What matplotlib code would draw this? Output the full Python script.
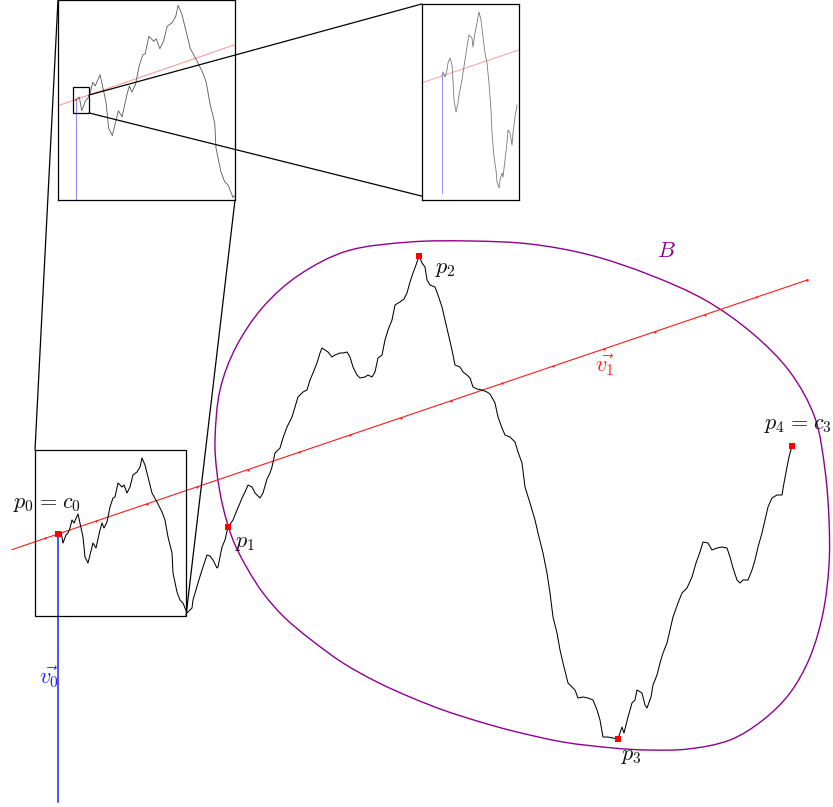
import numpy as np
import matplotlib
matplotlib.use("Agg")
import matplotlib.pyplot as plt
from matplotlib.path import Path
from matplotlib.patches import PathPatch, Rectangle, ConnectionPatch

plt.rcParams['mathtext.fontset'] = 'cm'

# ---------------- data (origin at p0) ----------------
path_x = [0, 3, 5, 8, 10, 12, 14, 16, 20, 22, 25, 27, 30, 32, 35, 38, 42, 44, 46, 49,
          52, 55, 57, 60, 64, 66, 69, 72, 75, 79, 82, 84, 87, 90, 94, 99, 104, 107, 110, 114,
          115, 119, 122, 125, 129, 134, 135, 140, 144, 149, 152, 155, 159, 160, 164, 167, 170, 175, 179, 182,
          184, 187, 190, 194, 197, 202, 205, 209, 212, 214, 217, 222, 225, 229, 234, 237, 240, 245, 249, 252,
          255, 259, 262, 264, 267, 270, 274, 277, 282, 285, 289, 292, 295, 299, 302, 307, 310, 314, 317, 320,
          324, 327, 330, 334, 337, 342, 346, 349, 352, 355, 358, 361, 364, 367, 369, 372, 377, 380, 384, 387,
          390, 394, 397, 402, 405, 409, 412, 415, 419, 424, 429, 432, 437, 440, 444, 447, 452, 457, 460, 464,
          467, 472, 477, 480, 485, 489, 492, 495, 499, 502, 505, 510, 517, 520, 525, 530, 535, 539, 542, 545,
          550, 555, 560, 564, 566, 570, 574, 577, 579, 584, 587, 589, 593, 595, 599, 602, 605, 609, 612, 615,
          620, 624, 629, 634, 638, 642, 645, 650, 654, 659, 664, 669, 672, 675, 679, 682, 685, 690, 694, 697,
          700, 704, 707, 710, 714, 719, 724, 726, 729, 731, 734]
path_y = [0, 2, -9, -1, 1, 6, 14, 11, 20, 11, -3, -23, -29, -21, -9, -14, 4, 11, 6, 12,
          27, 36, 37, 51, 47, 49, 41, 47, 59, 62, 67, 76, 69, 57, 41, 32, 22, 14, -3, -19,
          -39, -58, -66, -69, -79, -74, -66, -49, -36, -21, -22, -26, -34, -33, -13, -6, 7, 14, 24, 31,
          36, 42, 49, 47, 41, 36, 41, 55, 61, 67, 81, 86, 96, 107, 117, 127, 137, 142, 144, 154,
          161, 171, 181, 186, 184, 182, 177, 179, 181, 181, 182, 177, 167, 159, 156, 157, 159, 157, 162, 176,
          179, 194, 204, 214, 229, 232, 235, 241, 252, 261, 269, 278, 271, 267, 254, 249, 247, 239, 227, 214,
          201, 184, 169, 167, 162, 159, 156, 147, 145, 144, 142, 140, 131, 117, 106, 99, 97, 92, 82, 71,
          47, 31, 14, 1, -19, -39, -59, -83, -99, -116, -129, -149, -156, -164, -163, -164, -166, -176, -186, -203,
          -203, -204, -205, -193, -199, -183, -169, -166, -156, -159, -171, -174, -163, -151, -141, -129, -119, -109, -96, -83,
          -69, -59, -54, -43, -29, -18, -8, -9, -16, -14, -13, -14, -23, -34, -46, -49, -46, -46, -36, -26,
          -13, 1, 14, 27, 36, 39, 39, 51, 67, 77, 88]
key_idx = [0, 56, 111, 162, 210]
key_labels = [r'$p_0\hspace{0.08}=\hspace{0.08}c_0$', r'$p_1$', r'$p_2$', r'$p_3$',
              r'$p_4\hspace{0.08}=\hspace{0.08}c_3$']

# fine-scale path shown in the second zoom
zoom_x = [0, 1, 3, 5, 6, 8, 10, 11, 12, 14, 16, 17, 18, 20, 21, 23, 25, 27, 30, 31,
          33, 35, 36, 37, 39, 41, 43, 45, 47, 49, 50, 52, 54, 55, 57, 58, 60, 61, 63, 65,
          66, 68, 70, 71, 73, 75]
zoom_y = [0, 4, -1, 6, 13, 18, 11, -4, -24, -36, -27, -19, -14, -4, 3, 16, 29, 41, 38, 29,
          43, 53, 59, 64, 56, 39, 23, 13, -7, -34, -57, -81, -94, -106, -112, -104, -97, -101, -84, -67,
          -54, -57, -69, -57, -41, -29]

# direction vectors
v0 = (0.0, -1.0)
v1 = (1.0, 0.339)
v0_len = 268
v1_t = (-46, 750)

# curve B
B_x = [157, 162, 178, 205, 241, 289, 352, 412, 472, 532, 592, 647, 694, 732, 757, 767,
       771, 771, 765, 752, 732, 705, 672, 630, 589, 555, 505, 455, 419, 385, 352, 319,
       285, 252, 226, 205, 189, 175, 165, 159]
B_y = [94, 144, 187, 227, 259, 283, 292, 293, 290, 279, 259, 234, 201, 162, 116, 64,
       14, -31, -79, -123, -159, -186, -206, -215, -216, -214, -208, -197, -187, -176, -163, -148,
       -129, -105, -83, -59, -34, -6, 27, 61]

# ---------------- figure ----------------
W, H = 833, 807
fig = plt.figure(figsize=(W / 100, H / 100), dpi=100)
ax = fig.add_axes([0, 0, 1, 1])
ax.set_xlim(-58, W - 58)
ax.set_ylim(534 - H, 534)
ax.axis('off')

PURPLE = '#900090'


def smooth_closed(xs, ys):
    pts = np.column_stack([xs, ys]).astype(float)
    n = len(pts)
    d = np.linalg.norm(np.roll(pts, -1, axis=0) - pts, axis=1)  # |p_{i+1}-p_i|
    tang = []
    for i in range(n):
        tang.append((pts[(i + 1) % n] - pts[i - 1]) / (d[i - 1] + d[i]))
    verts = [pts[0]]
    codes = [Path.MOVETO]
    for i in range(n):
        j = (i + 1) % n
        verts += [pts[i] + tang[i] * d[i] / 3, pts[j] - tang[j] * d[i] / 3, pts[j]]
        codes += [Path.CURVE4] * 3
    return Path(verts, codes)


ax.add_patch(PathPatch(smooth_closed(B_x, B_y), fill=False, ec=PURPLE, lw=1.0))


def draw_lines(a, col_r, col_b, lw_r, lw_b, blen, dots=True):
    t = np.array(v1_t, float)
    a.plot(t * v1[0], t * v1[1], color=col_r, lw=lw_r, zorder=2)
    if dots:
        td = np.linspace(-13, 749, 16)
        a.plot(td * v1[0], td * v1[1], 'o', color=col_r, ms=1.6, mew=0, zorder=2)
    a.plot([0, v0[0] * blen], [0, v0[1] * blen], color=col_b, lw=lw_b, zorder=2)


draw_lines(ax, '#ff1a1a', '#2222ff', 0.8, 1.1, v0_len)
ax.plot(path_x, path_y, color='black', lw=0.75, zorder=3)
kx = [path_x[i] for i in key_idx]
ky = [path_y[i] for i in key_idx]
ax.plot(kx, ky, 's', color='#ff0000', ms=3.8, mew=0, zorder=4)

fs = 16
label_pos = [(-45.5, 26), (177, -13), (377, 261), (563, -226), (706, 105)]
for (lx, ly), lab in zip(label_pos, key_labels):
    ax.text(lx, ly, lab, fontsize=fs, ha='left', va='baseline', color='#111111')
ax.text(599, 277, r'$B$', fontsize=fs, color=PURPLE, ha='left', va='baseline')
ax.text(537, 162, r'$\vec{v_1}$', fontsize=fs, color='#ff2020', ha='left', va='baseline')
ax.text(-18.7, -150, r'$\vec{v_0}$', fontsize=fs, color='#2222ff', ha='left', va='baseline')

# box around the first zoom region
ax.add_patch(Rectangle((-23, -82), 151, 166, fill=False, ec='black', lw=0.9, zorder=5))

# ---------------- inset 1 ----------------
ax1 = fig.add_axes([58 / W, 1 - 200 / H, 177 / W, 200 / H])
ax1.set_xlim(-14.5, 130.6)
ax1.set_ylim(-81, 80.3)
ax1.set_xticks([]); ax1.set_yticks([])
for s in ax1.spines.values():
    s.set_linewidth(0.9)
draw_lines(ax1, '#ff9090', '#9090ff', 0.7, 0.8, 200, dots=False)
ax1.plot(path_x, path_y, color='#555555', lw=0.6, zorder=3)
ax1.plot([0], [0], 's', color='#ff4040', ms=1.8, mew=0, zorder=4)
ax1.add_patch(Rectangle((-2.2, -10.8), 13.2, 21, fill=False, ec='black', lw=0.9, zorder=5))

# ---------------- inset 2 ----------------
ax2 = fig.add_axes([421.7 / W, 1 - 200 / H, 97.6 / W, 196 / H])
ax2.set_xlim(-20.3, 77.3)
ax2.set_ylim(-124, 72)
ax2.set_xticks([]); ax2.set_yticks([])
for s in ax2.spines.values():
    s.set_linewidth(0.9)
draw_lines(ax2, '#ff9090', '#9090ff', 0.6, 0.7, 117, dots=False)
ax2.plot(zoom_x, zoom_y, color='#777777', lw=0.6, zorder=3)

# ---------------- connectors ----------------
conns = [
    ((-23, 84), ax.transData, (0, 1), ax1.transAxes),
    ((128, -82), ax.transData, (1, 0), ax1.transAxes),
    ((11, 3.7), ax1.transData, (0, 1), ax2.transAxes),
    ((11, -10.8), ax1.transData, (0, 0.02), ax2.transAxes),
]
for xyA, cA, xyB, cB in conns:
    fig.add_artist(ConnectionPatch(xyA=xyA, coordsA=cA, xyB=xyB, coordsB=cB,
                                   color='black', lw=0.9))

fig.savefig('out.png', dpi=100)
